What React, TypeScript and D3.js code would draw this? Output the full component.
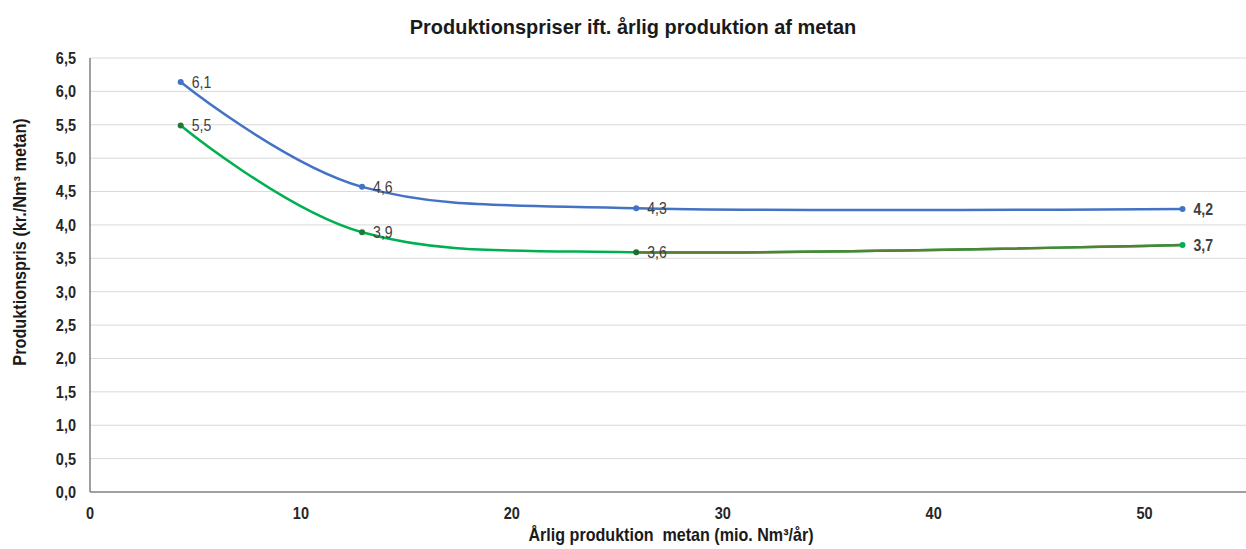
import { useEffect, useRef } from "react";
import * as d3 from "d3";

const production = [4.3, 12.9, 25.9, 51.8];
const priceBlue = [6.14, 4.57, 4.25, 4.24];
const priceGreen = [5.49, 3.89, 3.59, 3.7];
const labelsBlue = ["6,1", "4,6", "4,3", "4,2"];
const labelsGreen = ["5,5", "3,9", "3,6", "3,7"];
const yTicks = [0, 0.5, 1, 1.5, 2, 2.5, 3, 3.5, 4, 4.5, 5, 5.5, 6, 6.5];
const xTicks = [0, 10, 20, 30, 40, 50];

const FONT = "'Liberation Sans', Arial, sans-serif";

export default function App() {
  const svgRef = useRef<SVGSVGElement>(null);

  useEffect(() => {
    if (!svgRef.current) return;
    const width = 1246;
    const height = 549;
    const svg = d3.select(svgRef.current);
    svg.selectAll("*").remove();
    svg.attr("width", width).attr("height", height);

    const x = d3.scaleLinear().domain([0, 55]).range([90, 1250]);
    const y = d3.scaleLinear().domain([0, 6.5]).range([492, 58]);

    // grid
    svg
      .append("g")
      .selectAll("line")
      .data(yTicks.filter((d) => d > 0))
      .join("line")
      .attr("x1", x(0))
      .attr("x2", width)
      .attr("y1", (d) => y(d))
      .attr("y2", (d) => y(d))
      .attr("stroke", "#d9d9d9")
      .attr("stroke-width", 1);

    // axes
    svg
      .append("line")
      .attr("x1", x(0))
      .attr("x2", x(0))
      .attr("y1", y(6.5))
      .attr("y2", y(0))
      .attr("stroke", "#808080")
      .attr("stroke-width", 1.5);
    svg
      .append("line")
      .attr("x1", x(0))
      .attr("x2", width)
      .attr("y1", y(0))
      .attr("y2", y(0))
      .attr("stroke", "#808080")
      .attr("stroke-width", 1.5);

    const fmt = d3.format(".1f");
    svg
      .append("g")
      .selectAll("text")
      .data(yTicks)
      .join("text")
      .attr("transform", (d) => `translate(76,${y(d)}) scale(0.88,1)`)
      .attr("dy", "0.36em")
      .attr("text-anchor", "end")
      .style("font-family", FONT)
      .style("font-size", "16.5px")
      .style("font-weight", "bold")
      .attr("fill", "#262626")
      .text((d) => fmt(d).replace(".", ","));

    svg
      .append("g")
      .selectAll("text")
      .data(xTicks)
      .join("text")
      .attr("transform", (d) => `translate(${x(d)},519) scale(0.88,1)`)
      .attr("text-anchor", "middle")
      .style("font-family", FONT)
      .style("font-size", "16.5px")
      .style("font-weight", "bold")
      .attr("fill", "#262626")
      .text((d) => String(d));

    // titles
    svg
      .append("text")
      .attr("transform", "translate(633,34) scale(0.95,1)")
      .attr("text-anchor", "middle")
      .style("font-family", FONT)
      .style("font-size", "21px")
      .style("font-weight", "bold")
      .attr("fill", "#1a1a1a")
      .text("Produktionspriser ift. årlig produktion af metan");

    svg
      .append("text")
      .attr("transform", "translate(671,541) scale(0.92,1)")
      .attr("text-anchor", "middle")
      .style("font-family", FONT)
      .style("font-size", "17.5px")
      .style("font-weight", "bold")
      .attr("fill", "#1a1a1a")
      .style("white-space", "pre")
      .text("Årlig produktion  metan (mio. Nm³/år)");

    svg
      .append("text")
      .attr("transform", "translate(26,242) rotate(-90) scale(0.93,1)")
      .attr("text-anchor", "middle")
      .style("font-family", FONT)
      .style("font-size", "17.5px")
      .style("font-weight", "bold")
      .attr("fill", "#1a1a1a")
      .text("Produktionspris (kr./Nm³ metan)");

    const line = d3
      .line<number>()
      .x((_, i) => x(production[i]))
      .y((d) => y(d))
      .curve(d3.curveCardinal.tension(0));

    svg
      .append("defs")
      .append("clipPath")
      .attr("id", "lastSeg")
      .append("rect")
      .attr("x", x(production[2]))
      .attr("y", 0)
      .attr("width", width)
      .attr("height", height);

    svg
      .append("path")
      .attr("d", line(priceBlue))
      .attr("fill", "none")
      .attr("stroke", "#4472c4")
      .attr("stroke-width", 2.5);

    svg
      .append("path")
      .attr("d", line(priceGreen))
      .attr("fill", "none")
      .attr("stroke", "#00b050")
      .attr("stroke-width", 2.5);
    svg
      .append("path")
      .attr("d", line(priceGreen))
      .attr("clip-path", "url(#lastSeg)")
      .attr("fill", "none")
      .attr("stroke", "#548235")
      .attr("stroke-width", 2.5);

    const series = [
      { values: priceBlue, labels: labelsBlue, color: ["#4472c4", "#4472c4", "#4472c4", "#4472c4"] },
      { values: priceGreen, labels: labelsGreen, color: ["#1e7b34", "#1e7b34", "#1e6b2e", "#00b050"] },
    ];

    series.forEach((s) => {
      svg
        .append("g")
        .selectAll("circle")
        .data(s.values)
        .join("circle")
        .attr("cx", (_, i) => x(production[i]))
        .attr("cy", (d) => y(d))
        .attr("r", 3)
        .attr("fill", (_, i) => s.color[i]);

      svg
        .append("g")
        .selectAll("text")
        .data(s.values)
        .join("text")
        .attr("transform", (d, i) => `translate(${x(production[i]) + 11},${y(d)}) scale(0.88,1)`)
        .attr("dy", "0.36em")
        .style("font-family", FONT)
        .style("font-size", "16px")
        .style("font-weight", (_, i) => (i === 3 ? "bold" : "normal"))
        .attr("fill", "#404040")
        .text((_, i) => s.labels[i]);
    });
  }, []);

  return (
    <div style={{ position: "absolute", left: 0, top: 0, background: "#fff" }}>
      <svg ref={svgRef} />
    </div>
  );
}
